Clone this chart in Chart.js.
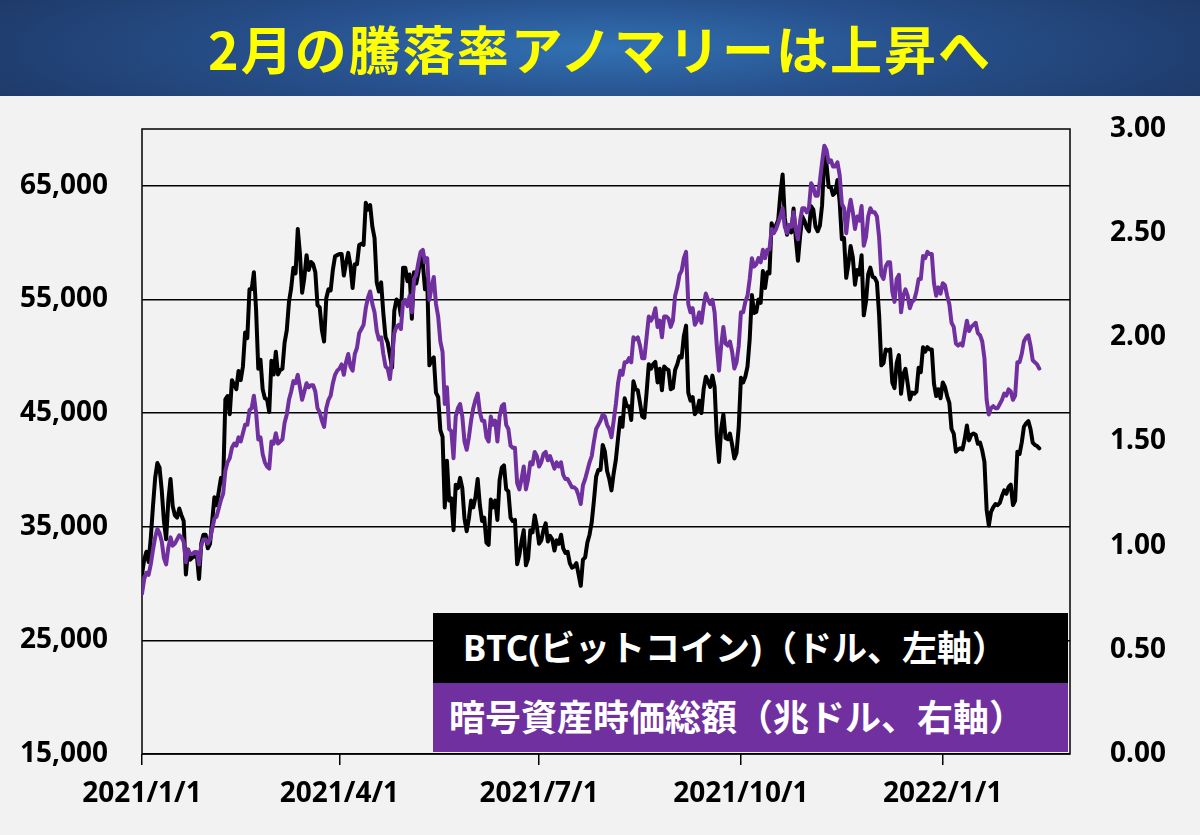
<!DOCTYPE html>
<html lang="ja">
<head>
<meta charset="utf-8">
<title>2月の騰落率アノマリーは上昇へ</title>
<script src="https://cdn.jsdelivr.net/npm/chart.js@4.4.1/dist/chart.umd.min.js"></script>
<style>
  html, body { margin: 0; padding: 0; }
  body {
    width: 1200px; height: 835px; overflow: hidden; position: relative;
    background: #f2f2f2;
    font-family: "Noto Sans", "Noto Sans CJK JP", sans-serif;
  }
  #banner {
    position: absolute; left: 0; top: 0; width: 1200px; height: 96px;
    background: radial-gradient(ellipse 60% 120% at 50% 50%, #3271b3 0%, #27508c 45%, #1d3764 100%);
    color: #ffff00; text-align: center;
    font: bold 52px "Noto Sans CJK JP", sans-serif;
    line-height: 96px; letter-spacing: 2px;
  }
  #wrap { position: absolute; left: 0; top: 96px; width: 1200px; height: 739px; }
  .key {
    position: absolute; left: 433px; width: 635px; height: 70px;
    color: #fff; font-weight: bold; line-height: 70px; white-space: nowrap;
  }
  #keyBtc { top: 613px; background: #000; font-size: 35px; padding-left: 30px; box-sizing: border-box; }
  #keyCap { top: 683px; height: 69px; line-height: 69px; background: #7030a0; font-size: 36px; padding-left: 16px; box-sizing: border-box; }
</style>
</head>
<body>
<div id="banner">2月の騰落率アノマリーは上昇へ</div>
<div id="wrap"><canvas id="chart" width="1200" height="739"></canvas></div>
<div class="key" id="keyBtc">BTC(ビットコイン)（ドル、左軸）</div>
<div class="key" id="keyCap">暗号資産時価総額（兆ドル、右軸）</div>

<script>
/* DATA: one value per day from 2021/1/1 (index 0) */
const btcPrice = [
  // 2021 Jan
  30800, 32100, 32800, 31900, 34000, 36800, 39300, 40600, 40200, 38200, 35500, 33900, 37300, 39200, 36800, 36000,
  35800, 36600, 36000, 35500, 30800, 33000, 32100, 32300, 32400, 32500, 30400, 33500, 34300, 34300, 33100,
  // Feb
  33500, 35500, 37600, 36900, 38100, 39300, 38900, 46200, 46500, 44900, 47900, 47500, 47100, 48700,
  47900, 49100, 52100, 51600, 55900, 55900, 57400, 54100, 48900, 49700, 47100, 46300, 46200, 45100,
  // Mar
  49600, 48400, 50400, 48400, 48800, 48900, 51200, 52300, 54800, 56000, 57800, 57300, 61200, 59000, 55600, 56900,
  58900, 57600, 58300, 58100, 57400, 54500, 54300, 52300, 51300, 55100, 55900, 55800, 57600, 58800, 58900,
  // Apr
  59000, 59000, 57100, 58200, 59100, 58000, 56000, 58100, 58100, 59800, 59900, 59800, 63500, 62900, 63300,
  61400, 60400, 56500, 55700, 56500, 53800, 51700, 51200, 50100, 49000, 54000, 55000, 54800, 53600, 57800,
  // May
  57800, 56600, 57200, 53300, 57400, 56400, 57400, 58800, 58200, 55900, 56800, 49200, 49700, 49900, 46800, 46400,
  43500, 42900, 36700, 40800, 37300, 37500, 34700, 38700, 38400, 39300, 38400, 35700, 34600, 35700, 37300,
  // Jun
  36700, 37600, 39200, 36900, 35500, 35800, 33600, 33400, 37400, 36700, 37300, 35600, 39100, 40200, 40400,
  38300, 38100, 35800, 35500, 35600, 31700, 32500, 33700, 34700, 31600, 32200, 34700, 34500, 36000, 35000,
  // Jul
  33500, 33800, 34700, 35300, 33700, 34200, 33900, 32900, 33800, 33500, 34300, 33100, 32700, 32800, 31800, 31400,
  31500, 31800, 30800, 29800, 32100, 32300, 33600, 34300, 35400, 37300, 39400, 40000, 40000, 42200, 41600,
  // Aug
  39900, 39200, 38200, 39700, 40900, 42800, 44600, 43800, 46300, 45600, 45600, 44400, 47800, 47100, 47000, 45900,
  44700, 44600, 46800, 49300, 48900, 49300, 49500, 47700, 48900, 47000, 49100, 48900, 48800, 47100, 47200,
  // Sep
  48800, 49300, 50000, 49900, 51800, 52700, 46800, 46100, 46400, 44900, 45200, 46100, 45000, 47100, 48200,
  47800, 47300, 48300, 47300, 43000, 40700, 43600, 44900, 42800, 42700, 43200, 42200, 41000, 41500, 43800,
  // Oct
  48100, 47700, 48200, 49100, 51500, 55400, 53800, 53900, 55000, 54700, 57500, 56000, 57400, 57300, 61700, 60900,
  61500, 62000, 64300, 66000, 62200, 60700, 61400, 60900, 63000, 60400, 58400, 60600, 62300, 61900, 61300,
  // Nov
  61000, 63200, 62900, 61400, 61000, 61500, 63300, 67600, 66900, 64900, 64900, 64200, 64400, 65500, 63600,
  60300, 60400, 56900, 58100, 59700, 58700, 56300, 57600, 57200, 58900, 53600, 54800, 57200, 57800, 57000,
  // Dec
  56900, 56500, 53600, 49200, 49400, 50600, 50500, 50600, 47700, 47200, 49400, 50100, 46700, 48400, 48900, 47600,
  46200, 46800, 46700, 46900, 49000, 48600, 50800, 50400, 50800, 50600, 50600, 47600, 46500, 47100, 46300,
  // 2022 Jan
  47700, 47300, 46500, 45900, 43600, 43200, 41600, 41800, 41900, 41800, 42700, 43900, 42600, 43100, 43200, 43100,
  42300, 42400, 41700, 40700, 36500, 35100, 36300, 36700, 37000, 36900, 37100, 37700, 38200, 37900, 38500,
  // Feb
  38700, 36900, 37300, 41600, 41400, 42400, 43800, 44100, 44300, 43600, 42400, 42200, 42100, 41900
];

const cryptoCap = [
  // 2021 Jan
  0.77, 0.84, 0.87, 0.86, 0.91, 0.98, 1.04, 1.08, 1.06, 1.02, 0.94, 0.91, 0.99, 1.04, 1.00, 1.01,
  1.03, 1.05, 1.04, 1.02, 0.92, 0.98, 0.96, 0.96, 0.97, 0.97, 0.91, 1.00, 1.03, 1.03, 1.01,
  // Feb
  1.03, 1.08, 1.13, 1.14, 1.18, 1.22, 1.25, 1.36, 1.40, 1.42, 1.47, 1.49, 1.48, 1.52,
  1.50, 1.54, 1.58, 1.58, 1.65, 1.66, 1.72, 1.64, 1.51, 1.52, 1.44, 1.40, 1.38, 1.37,
  // Mar
  1.50, 1.49, 1.54, 1.49, 1.50, 1.51, 1.59, 1.63, 1.70, 1.74, 1.79, 1.78, 1.82, 1.76, 1.70, 1.74,
  1.78, 1.76, 1.77, 1.77, 1.74, 1.66, 1.64, 1.60, 1.57, 1.66, 1.70, 1.72, 1.78, 1.82, 1.84,
  // Apr
  1.85, 1.87, 1.82, 1.88, 1.92, 1.86, 1.84, 1.92, 1.95, 2.02, 2.04, 2.06, 2.14, 2.19, 2.22,
  2.16, 2.12, 2.03, 1.99, 2.00, 1.92, 1.86, 1.85, 1.80, 1.90, 2.02, 2.05, 2.06, 2.04, 2.17,
  // May
  2.18, 2.15, 2.20, 2.12, 2.28, 2.30, 2.36, 2.41, 2.42, 2.36, 2.38, 2.18, 2.24, 2.29, 2.16, 2.10,
  1.98, 1.93, 1.68, 1.76, 1.56, 1.55, 1.42, 1.62, 1.66, 1.68, 1.62, 1.50, 1.46, 1.52, 1.60,
  // Jun
  1.66, 1.70, 1.73, 1.64, 1.60, 1.60, 1.52, 1.50, 1.62, 1.58, 1.60, 1.50, 1.62, 1.67, 1.68,
  1.58, 1.56, 1.48, 1.47, 1.47, 1.30, 1.27, 1.32, 1.38, 1.27, 1.32, 1.40, 1.39, 1.45, 1.43,
  // Jul
  1.38, 1.40, 1.44, 1.45, 1.41, 1.43, 1.40, 1.37, 1.40, 1.38, 1.40, 1.34, 1.32, 1.32, 1.30, 1.28,
  1.28, 1.27, 1.24, 1.20, 1.29, 1.32, 1.36, 1.40, 1.43, 1.50, 1.56, 1.58, 1.60, 1.63, 1.62,
  // Aug
  1.58, 1.56, 1.52, 1.60, 1.68, 1.78, 1.84, 1.82, 1.88, 1.88, 1.90, 1.88, 2.00, 1.99, 2.00, 1.96,
  1.90, 1.90, 2.00, 2.10, 2.08, 2.10, 2.14, 2.05, 2.08, 2.00, 2.10, 2.10, 2.09, 2.05, 2.08,
  // Sep
  2.20, 2.24, 2.30, 2.32, 2.38, 2.41, 2.16, 2.12, 2.14, 2.06, 2.08, 2.12, 2.07, 2.15, 2.21,
  2.18, 2.16, 2.18, 2.12, 1.96, 1.84, 1.96, 2.05, 1.97, 1.96, 1.98, 1.93, 1.85, 1.88, 1.96,
  // Oct
  2.12, 2.12, 2.17, 2.20, 2.28, 2.38, 2.34, 2.35, 2.38, 2.36, 2.42, 2.38, 2.42, 2.42, 2.52, 2.50,
  2.52, 2.55, 2.58, 2.62, 2.53, 2.50, 2.54, 2.53, 2.60, 2.52, 2.47, 2.56, 2.62, 2.62, 2.60,
  // Nov
  2.62, 2.74, 2.72, 2.68, 2.68, 2.75, 2.84, 2.92, 2.90, 2.84, 2.85, 2.82, 2.82, 2.84, 2.78,
  2.64, 2.62, 2.50, 2.60, 2.66, 2.60, 2.52, 2.58, 2.56, 2.63, 2.44, 2.48, 2.58, 2.62, 2.60,
  // Dec
  2.60, 2.58, 2.48, 2.30, 2.28, 2.34, 2.36, 2.36, 2.22, 2.17, 2.28, 2.30, 2.12, 2.20, 2.23, 2.20,
  2.14, 2.17, 2.18, 2.22, 2.28, 2.28, 2.39, 2.38, 2.41, 2.40, 2.40, 2.26, 2.20, 2.24, 2.21,
  // 2022 Jan
  2.26, 2.25, 2.20, 2.16, 2.07, 2.05, 1.97, 1.96, 1.97, 1.96, 2.02, 2.08, 2.03, 2.05, 2.06, 2.07,
  2.02, 2.01, 1.98, 1.90, 1.70, 1.63, 1.66, 1.67, 1.66, 1.66, 1.68, 1.70, 1.73, 1.72, 1.75,
  // Feb
  1.74, 1.70, 1.72, 1.88, 1.88, 1.92, 1.98, 2.00, 2.01, 1.96, 1.89, 1.88, 1.87, 1.85
];

/* AXES */
const dateTickDays = [0, 90, 181, 273, 365];
const dateTickLabels = ["2021/1/1", "2021/4/1", "2021/7/1", "2021/10/1", "2022/1/1"];
const lastDay = 423;            // 2022/2/28
const btcTicks = [15000, 25000, 35000, 45000, 55000, 65000];
const btcMin = 15000, btcMax = 70000;
const capMin = 0, capMax = 3, capStep = 0.5;

const tickFont = { family: "'Noto Sans', sans-serif", size: 28, weight: "bold" };

/* PLOT FRAME */
const frame = {
    id: "frame",
    beforeDatasetsDraw(chart) {
        const a = chart.chartArea;
        const c = chart.ctx;
        c.save();
        c.strokeStyle = "#000";
        c.lineWidth = 1.5;
        c.strokeRect(a.left, a.top, a.right - a.left, a.bottom - a.top);
        c.restore();
    }
};

// fixed side widths; label padding must not push the plot down
function fixWidth(w) {
    return s => {
        s.width = w;
        s.paddingTop = 0;
        s.paddingBottom = 0;
    };
}

let ctx = document.getElementById("chart").getContext("2d");

let chart = new Chart(ctx, {
    type: "line",
    data: {
        datasets: [
            {
                label: "暗号資産時価総額（兆ドル、右軸）",
                data: cryptoCap.map((v, i) => ({ x: i, y: v })),
                yAxisID: "yCap",
                borderColor: "#7030a0",
                borderWidth: 4,
                pointRadius: 0,
                tension: 0,
                order: 0
            },
            {
                label: "BTC(ビットコイン)（ドル、左軸）",
                data: btcPrice.map((v, i) => ({ x: i, y: v })),
                yAxisID: "yBtc",
                borderColor: "#000000",
                borderWidth: 4,
                pointRadius: 0,
                tension: 0,
                order: 1
            }
        ]
    },
    options: {
        responsive: false,
        animation: false,
        devicePixelRatio: 1,
        layout: { padding: { top: 33, left: 0, right: 0, bottom: 0 } },
        plugins: { legend: { display: false }, tooltip: { enabled: false } },
        elements: { line: { borderJoinStyle: "round", borderCapStyle: "round" } },
        scales: {
            x: {
                type: "linear",
                min: 0,
                max: lastDay,
                afterBuildTicks: s => { s.ticks = dateTickDays.map(v => ({ value: v })); },
                afterFit: s => { s.height = 81; },
                grid: { drawOnChartArea: false, color: "#000", lineWidth: 1.5, tickLength: 11 },
                border: { display: false },
                ticks: {
                    autoSkip: false,
                    maxRotation: 0,
                    padding: 12,
                    color: "#000",
                    font: tickFont,
                    callback: v => dateTickLabels[dateTickDays.indexOf(v)]
                }
            },
            yBtc: {
                position: "left",
                min: btcMin,
                max: btcMax,
                afterBuildTicks: s => { s.ticks = btcTicks.map(v => ({ value: v })); },
                afterFit: fixWidth(142),
                grid: { color: "#000", lineWidth: 1.5, drawTicks: false },
                border: { display: false },
                ticks: {
                    padding: 34,
                    color: "#000",
                    font: tickFont,
                    callback: v => v.toLocaleString("en-US")
                }
            },
            yCap: {
                position: "right",
                min: capMin,
                max: capMax,
                afterFit: fixWidth(130),
                grid: { display: false },
                border: { display: false },
                ticks: {
                    stepSize: capStep,
                    padding: 32,
                    color: "#000",
                    font: tickFont,
                    callback: v => v.toFixed(2)
                }
            }
        }
    },
    plugins: [frame]
});
</script>
</body>
</html>
